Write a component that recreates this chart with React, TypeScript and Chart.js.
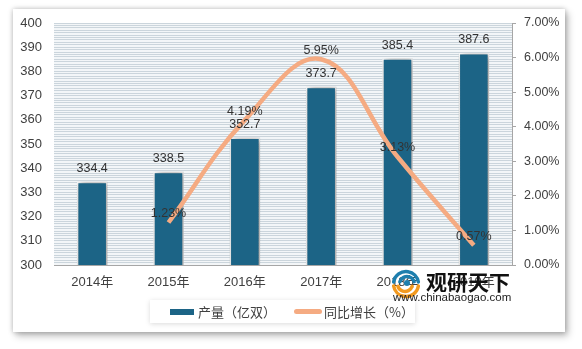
import React, { useEffect, useRef } from "react";
import { Chart, registerables } from "chart.js";

Chart.register(...registerables);

const categories = ["2014年", "2015年", "2016年", "2017年", "2018年", "2019年"];
const production = [334.4, 338.5, 352.7, 373.7, 385.4, 387.6];
const growth = [null, 1.23, 4.19, 5.95, 3.13, 0.57];
const legendLabels = ["产量（亿双）", "同比增长（%）"];

const BAR_COLOR = "#1c6486";
const LINE_COLOR = "#f5ab82";
const TEXT_COLOR = "#404040";
const FONT = "'Liberation Sans', 'Noto Sans CJK SC', sans-serif";

const bgPlugin = {
  id: "bgPlugin",
  beforeDraw(chart: any) {
    const { ctx, chartArea } = chart;
    ctx.save();
    ctx.fillStyle = "#f3f6f8";
    ctx.fillRect(chartArea.left, chartArea.top, chartArea.right - chartArea.left, chartArea.bottom - chartArea.top);
    ctx.restore();
  },
};

const barShadow = {
  id: "barShadow",
  beforeDatasetDraw(chart: any, args: any) {
    if (args.index === 0) {
      const ctx = chart.ctx;
      ctx.save();
      ctx.shadowColor = "rgba(0,0,0,0.45)";
      ctx.shadowBlur = 7;
      ctx.shadowOffsetX = 2;
      ctx.shadowOffsetY = 0;
    }
  },
  afterDatasetDraw(chart: any, args: any) {
    if (args.index === 0) chart.ctx.restore();
  },
};

const valueLabels = {
  id: "valueLabels",
  afterDatasetsDraw(chart: any) {
    const ctx = chart.ctx;
    ctx.save();
    ctx.font = `12.5px ${FONT}`;
    ctx.fillStyle = "#333";
    ctx.textAlign = "center";
    ctx.textBaseline = "middle";
    const barMeta = chart.getDatasetMeta(0);
    barMeta.data.forEach((el: any, i: number) => {
      ctx.fillText(production[i].toFixed(1), el.x, el.y - 13);
    });
    const lineMeta = chart.getDatasetMeta(1);
    lineMeta.data.forEach((el: any, i: number) => {
      const v = growth[i];
      if (v === null || v === undefined) return;
      ctx.fillText(v.toFixed(2) + "%", el.x, el.y - 9);
    });
    ctx.restore();
  },
};

const watermark = {
  id: "watermark",
  afterDraw(chart: any) {
    const ctx = chart.ctx;
    ctx.save();
    const cx = 406;
    const cy = 284;
    ctx.lineCap = "round";
    ctx.strokeStyle = "#1e7fae";
    ctx.lineWidth = 3.5;
    ctx.beginPath();
    ctx.arc(cx, cy, 12.5, Math.PI * 1.05, Math.PI * 1.95);
    ctx.stroke();
    ctx.beginPath();
    ctx.arc(cx + 1, cy, 7.5, Math.PI * 1.1, Math.PI * 1.9);
    ctx.stroke();
    ctx.strokeStyle = "#f39a1f";
    ctx.beginPath();
    ctx.arc(cx, cy, 12.5, Math.PI * 0.05, Math.PI * 0.95);
    ctx.stroke();
    ctx.beginPath();
    ctx.arc(cx - 1, cy, 7.5, Math.PI * 0.1, Math.PI * 0.9);
    ctx.stroke();
    ctx.fillStyle = "#1e7fae";
    ctx.beginPath();
    ctx.arc(cx + 1, cy - 1, 3, 0, Math.PI * 2);
    ctx.fill();
    ctx.fillStyle = "#111";
    ctx.font = `bold 21px 'Noto Sans CJK SC', sans-serif`;
    ctx.textBaseline = "middle";
    ctx.textAlign = "left";
    ctx.fillText("观研天下", 426, 282);
    ctx.font = `11.5px ${FONT}`;
    ctx.fillStyle = "#222";
    ctx.fillText("www.chinabaogao.com", 393, 298);
    ctx.restore();
  },
};

export default function App() {
  const ref = useRef<HTMLCanvasElement>(null);
  useEffect(() => {
    if (!ref.current) return;
    const chart = new Chart(ref.current, {
      type: "bar",
      data: {
        labels: categories,
        datasets: [
          {
            type: "bar",
            label: legendLabels[0],
            data: production,
            backgroundColor: BAR_COLOR,
            borderColor: "#ffffff",
            borderWidth: 1.5,
            barPercentage: 0.4,
            categoryPercentage: 1,
            yAxisID: "y",
            order: 1,
          },
          {
            type: "line",
            label: legendLabels[1],
            data: growth as any,
            borderColor: LINE_COLOR,
            borderWidth: 4.5,
            pointRadius: 0,
            tension: 0.4,
            spanGaps: false,
            yAxisID: "y1",
            order: 0,
          },
        ],
      },
      options: {
        responsive: false,
        animation: false,
        layout: { padding: { top: 23, left: 0, right: 0, bottom: 0 } },
        plugins: { legend: { display: false }, tooltip: { enabled: false } },
        scales: {
          x: {
            grid: { display: false, drawTicks: false },
            border: { color: "#a6a6a6", width: 1 },
            ticks: { color: TEXT_COLOR, font: { size: 13, family: FONT }, padding: 10 },
            afterFit(scale: any) {
              scale.height = 84;
            },
          },
          y: {
            position: "left",
            min: 300,
            max: 400,
            grid: { color: "#cbd5dc", lineWidth: 1, drawTicks: false },
            border: { display: false },
            ticks: {
              stepSize: 1,
              autoSkip: false,
              color: TEXT_COLOR,
              font: { size: 13, family: FONT },
              padding: 12,
              callback: (v: any) => (Number(v) % 10 === 0 ? String(v) : ""),
            },
            afterFit(scale: any) {
              scale.width = 54;
            },
          },
          y1: {
            position: "right",
            min: 0,
            max: 7,
            grid: { drawOnChartArea: false, drawTicks: true, tickLength: 4, color: "#a6a6a6" },
            border: { color: "#a6a6a6", width: 1 },
            ticks: {
              stepSize: 1,
              color: TEXT_COLOR,
              font: { size: 12.5, family: FONT },
              padding: 8,
              callback: (v: any) => Number(v).toFixed(2) + "%",
            },
            afterFit(scale: any) {
              scale.width = 70;
            },
          },
        },
      } as any,
      plugins: [bgPlugin, barShadow, valueLabels, watermark],
    });
    return () => chart.destroy();
  }, []);

  return (
    <div style={{ position: "fixed", left: 0, top: 0, width: 582, height: 349, background: "#ffffff", overflow: "hidden" }}>
      <div
        style={{
          position: "absolute",
          left: 13,
          top: 9,
          width: 552,
          height: 323,
          background: "#ffffff",
          boxShadow: "0 0 5px rgba(0,0,0,0.25), 3px 4px 7px rgba(0,0,0,0.25)",
        }}
      />
      <div
        style={{
          position: "absolute",
          left: 150,
          top: 300,
          width: 265,
          height: 23,
          background: "#ffffff",
          boxShadow: "0 1px 5px rgba(0,0,0,0.15)",
        }}
      />
      <canvas ref={ref} width={582} height={349} style={{ position: "absolute", left: 0, top: 0 }} />
      <div
        style={{
          position: "absolute",
          left: 170,
          top: 300,
          height: 23,
          display: "flex",
          alignItems: "center",
          fontFamily: "'Noto Sans CJK SC', sans-serif",
          fontSize: 13,
          color: TEXT_COLOR,
          whiteSpace: "nowrap",
        }}
      >
        <span style={{ display: "inline-block", width: 24, height: 6, background: BAR_COLOR, marginRight: 4 }} />
        <span style={{ marginRight: 18 }}>{legendLabels[0]}</span>
        <span style={{ display: "inline-block", width: 28, height: 5, borderRadius: 3, background: LINE_COLOR, marginRight: 2 }} />
        <span>{legendLabels[1]}</span>
      </div>
    </div>
  );
}
